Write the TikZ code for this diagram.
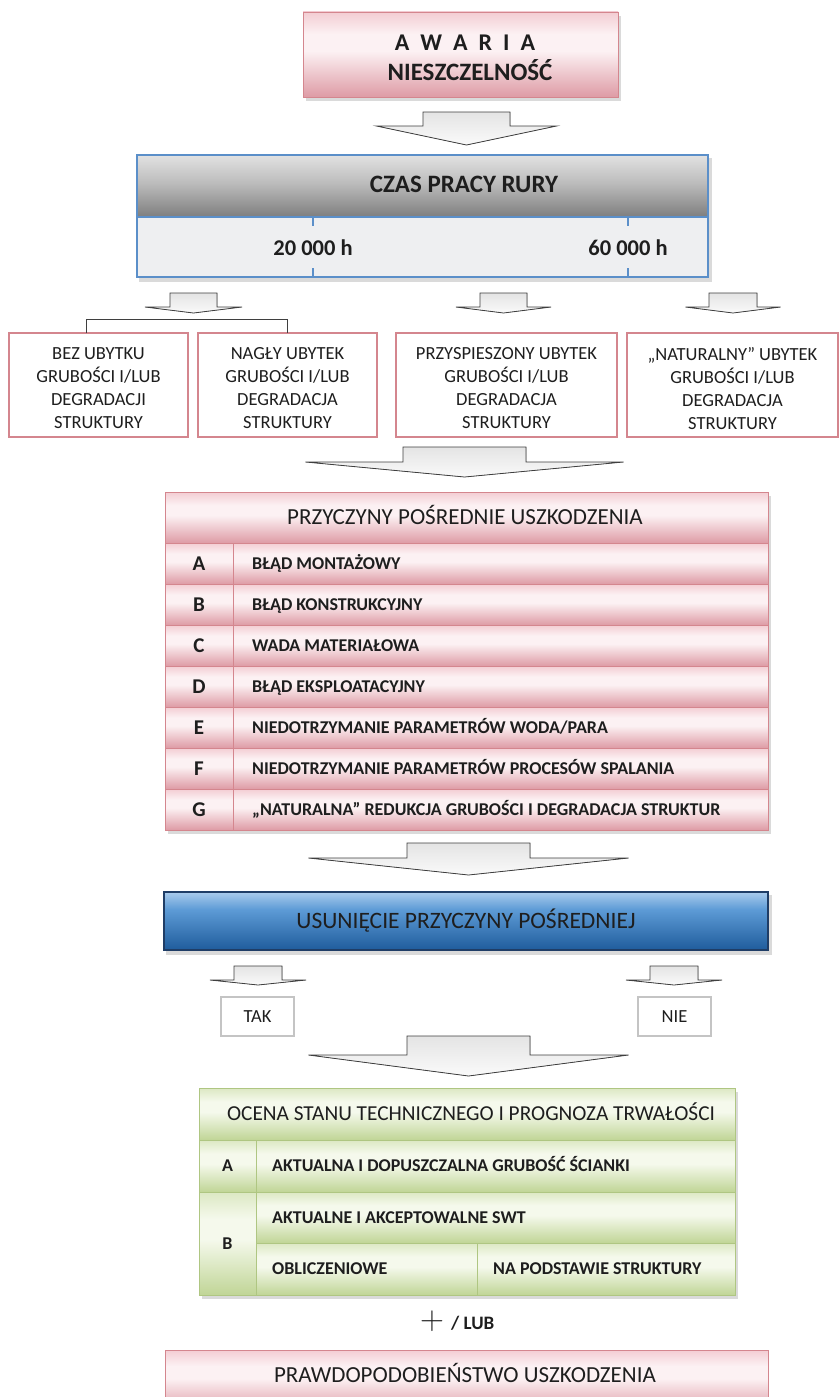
\documentclass[tikz,border=0pt]{standalone}
\usepackage{fontspec}
\setmainfont{Carlito}
\usetikzlibrary{backgrounds}

\newcommand\setfs[2]{\fontsize{#1}{#2}\selectfont}

% palette
\definecolor{ink}{HTML}{1E1E1E}
\definecolor{pinkline}{HTML}{D4868E}
\definecolor{pinkTop}{HTML}{F3CDD3}
\definecolor{pinkMid}{HTML}{FCF1F3}
\definecolor{pinkBot}{HTML}{DE9BA5}
\definecolor{greenline}{HTML}{AFC682}
\definecolor{greenTop}{HTML}{DCE8C3}
\definecolor{greenMid}{HTML}{F5F9EC}
\definecolor{greenBot}{HTML}{C0D596}
\definecolor{grayTop}{HTML}{E2E2E2}
\definecolor{grayMid}{HTML}{BBBBBB}
\definecolor{grayBot}{HTML}{7E7E7E}
\definecolor{axisfill}{HTML}{EEEFF1}
\definecolor{axisline}{HTML}{5B8FC9}
\definecolor{blueTop}{HTML}{A9CBEC}
\definecolor{blueMid}{HTML}{5D9BD6}
\definecolor{blueBot}{HTML}{1F5C9C}
\definecolor{blueline}{HTML}{1F3D66}
\definecolor{arrowline}{HTML}{3F3F3F}
\definecolor{arrowTop}{HTML}{E4E4E4}
\definecolor{arrowBot}{HTML}{FAFAFA}
\definecolor{boxgray}{HTML}{C4C4C4}
\definecolor{shadowgray}{HTML}{8C8C8C}

% vertical bands: the path spans 25bp (bottom) .. 75bp (top)
\pgfdeclareverticalshading{pinkband}{100bp}{color(0bp)=(pinkBot); color(25bp)=(pinkBot); color(52bp)=(pinkMid); color(62bp)=(pinkMid); color(75bp)=(pinkTop); color(100bp)=(pinkTop)}
\pgfdeclareverticalshading{greenband}{100bp}{color(0bp)=(greenBot); color(25bp)=(greenBot); color(52bp)=(greenMid); color(62bp)=(greenMid); color(75bp)=(greenTop); color(100bp)=(greenTop)}
\pgfdeclareverticalshading{grayband}{100bp}{color(0bp)=(grayBot); color(25bp)=(grayBot); color(52bp)=(grayMid); color(75bp)=(grayTop); color(100bp)=(grayTop)}
\pgfdeclareverticalshading{blueband}{100bp}{color(0bp)=(blueBot); color(25bp)=(blueBot); color(60bp)=(blueMid); color(75bp)=(blueTop); color(100bp)=(blueTop)}

% downward block arrow: centre x, top y, half stem, half head, stem bottom y, tip y
\newcommand\blockarrow[6]{%
  \filldraw[blockarr] (#1-#3,#2) -- (#1+#3,#2) -- (#1+#3,#5) -- (#1+#4,#5)
    -- (#1,#6) -- (#1-#4,#5) -- (#1-#3,#5) -- cycle;}

\begin{document}
\begin{tikzpicture}[x=1pt,y=-1pt,
  every node/.style={text=ink},
  pinkcell/.style={draw=pinkline, line width=0.9pt, shade, shading=pinkband, inner sep=0pt, outer sep=0pt},
  greencell/.style={draw=greenline, line width=0.9pt, shade, shading=greenband, inner sep=0pt, outer sep=0pt},
  hdrtext/.style={font=\setfs{23}{28}, text height=14.5pt, text depth=0pt, inner sep=0pt},
  rowtext/.style={font=\bfseries\setfs{18}{22}, text height=11.4pt, text depth=0pt, inner sep=0pt, anchor=west},
  lettext/.style={font=\bfseries\setfs{21}{25}, text height=13.3pt, text depth=0pt, inner sep=0pt},
  smalllet/.style={font=\bfseries\setfs{18}{22}, text height=11.4pt, text depth=0pt, inner sep=0pt},
  statebox/.style={draw=pinkline, line width=1.6pt, fill=white, inner sep=0pt, outer sep=0pt},
  statetext/.style={font=\setfs{18.5}{23}, align=center, inner sep=0pt},
  choicebox/.style={draw=boxgray, line width=1.2pt, fill=white, font=\setfs{18.5}{22}, text height=11.7pt, text depth=0pt, inner sep=0pt},
  blockarr/.style={draw=arrowline, line width=0.8pt, top color=arrowTop, bottom color=arrowBot, line join=miter},
  bracket/.style={draw=arrowline, line width=0.8pt},
  tick/.style={draw=axisline, line width=2pt},
  shadowbox/.style={fill=shadowgray, opacity=0.32},
]
\useasboundingbox (0,0) rectangle (839,1397);

% ---- failure ----
\node[pinkcell, minimum width=315pt, minimum height=85pt] (awaria) at (460.5,54.5) {};
\node[font=\bfseries\setfs{24}{28}, text height=15.2pt, text depth=0pt, inner sep=0pt] (awtitle) at (465,43)
  {A\hspace{11pt}W\hspace{11pt}A\hspace{11pt}R\hspace{11pt}I\hspace{11pt}A};
\node[font=\bfseries\setfs{25}{30}, text height=15.8pt, text depth=0pt, inner sep=0pt] (awsub) at (470,73) {NIESZCZELNOŚĆ};

\blockarrow{466.5}{112}{43.5}{90}{126}{145}

% ---- operating time ----
\node[draw=axisline, line width=1.5pt, shade, shading=grayband, minimum width=571pt, minimum height=62pt, inner sep=0pt] (czas) at (422.5,186) {};
\node[draw=axisline, line width=1.5pt, fill=axisfill, minimum width=571pt, minimum height=60pt, inner sep=0pt] (axis) at (422.5,247) {};
\node[font=\bfseries\setfs{25}{30}, text height=15.8pt, text depth=0pt, inner sep=0pt] (czastitle) at (464,185) {CZAS PRACY RURY};
\draw[tick] (313,218) -- (313,226);
\draw[tick] (313,268) -- (313,276);
\draw[tick] (628,218) -- (628,226);
\draw[tick] (628,268) -- (628,276);
\node[font=\bfseries\setfs{22.5}{27}, text height=14.2pt, text depth=0pt, inner sep=0pt] (h20) at (313,248) {20 000 h};
\node[font=\bfseries\setfs{22.5}{27}, text height=14.2pt, text depth=0pt, inner sep=0pt] (h60) at (628,248) {60 000 h};

\blockarrow{193.5}{293}{23.5}{48.5}{307}{313}
\blockarrow{503.5}{293}{23.5}{47.5}{307}{313}
\blockarrow{733}{293}{24}{47.5}{307}{313}

% ---- wall-loss states ----
\node[statebox, minimum width=179pt, minimum height=104pt] (s1) at (98.5,385) {};
\node[statebox, minimum width=179pt, minimum height=104pt] (s2) at (287.5,385) {};
\node[statebox, minimum width=221pt, minimum height=104pt] (s3) at (506.5,385) {};
\node[statebox, minimum width=211pt, minimum height=104pt] (s4) at (732.5,385) {};
\node[statetext] (t1) at (98.5,388.5) {BEZ UBYTKU\\GRUBOŚCI I/LUB\\DEGRADACJI\\STRUKTURY};
\node[statetext] (t2) at (287.5,388.5) {NAGŁY UBYTEK\\GRUBOŚCI I/LUB\\DEGRADACJA\\STRUKTURY};
\node[statetext] (t3) at (506.5,388.5) {PRZYSPIESZONY UBYTEK\\GRUBOŚCI I/LUB\\DEGRADACJA\\STRUKTURY};
\node[statetext] (t4) at (732.5,388.5) {„NATURALNY” UBYTEK\\GRUBOŚCI I/LUB\\DEGRADACJA\\STRUKTURY};
\draw[bracket] ([xshift=-12.5pt]s1.north) |- ([yshift=14pt]s2.north) -- (s2.north);

\blockarrow{464.5}{447}{61.5}{159}{462}{477}

% ---- indirect causes ----
\node[pinkcell, minimum width=603pt, minimum height=51pt] (phead) at (466.5,517.5) {};
\node[hdrtext] (pheadtext) at (465,517) {PRZYCZYNY POŚREDNIE USZKODZENIA};
\foreach \L/\T [count=\i from 0] in {
    A/{BŁĄD MONTAŻOWY},
    B/{BŁĄD KONSTRUKCYJNY},
    C/{WADA MATERIAŁOWA},
    D/{BŁĄD EKSPLOATACYJNY},
    E/{NIEDOTRZYMANIE PARAMETRÓW WODA/PARA},
    F/{NIEDOTRZYMANIE PARAMETRÓW PROCESÓW SPALANIA},
    G/{„NATURALNA” REDUKCJA GRUBOŚCI I DEGRADACJA STRUKTUR}} {
  \node[pinkcell, minimum width=68pt, minimum height=41pt] (pl\L) at (199,563.5+41*\i) {};
  \node[lettext] (plt\L) at (pl\L.center) {\L};
  \node[pinkcell, minimum width=535pt, minimum height=41pt] (pr\L) at (500.5,563.5+41*\i) {};
  \node[rowtext] (prt\L) at ([xshift=19pt]pr\L.west) {\T};
}
\begin{scope}[on background layer]
  \fill[shadowbox] ([shift={(3pt,-4pt)}]awaria.north west) rectangle ([shift={(3pt,-4pt)}]awaria.south east);
  \fill[shadowbox] ([shift={(3pt,-4pt)}]czas.north west) rectangle ([shift={(3pt,-4pt)}]axis.south east);
  \fill[shadowbox] ([shift={(3pt,-4pt)}]phead.north west) rectangle ([shift={(3pt,-4pt)}]prG.south east);
\end{scope}

\blockarrow{468.5}{843}{61.5}{160}{858}{875}

% ---- removal of the cause ----
\node[draw=blueline, line width=1.2pt, shade, shading=blueband, minimum width=604pt, minimum height=58pt, inner sep=0pt,
  font=\setfs{23.5}{28}, text height=14.9pt, text depth=0pt] (usun) at (466,921) {USUNIĘCIE PRZYCZYNY POŚREDNIEJ};

\blockarrow{258}{966}{24}{48}{980}{985}
\blockarrow{674}{966}{24}{48}{980}{985}
\node[choicebox, minimum width=73pt, minimum height=39pt] (tak) at (257.5,1016.5) {TAK};
\node[choicebox, minimum width=73pt, minimum height=39pt] (nie) at (674.5,1016.5) {NIE};

\blockarrow{468.5}{1036}{61.5}{160}{1055}{1076}

% ---- technical assessment ----
\node[greencell, minimum width=536pt, minimum height=52pt] (ohead) at (467,1114) {};
\node[font=\setfs{21.3}{26}, text height=13.5pt, text depth=0pt, inner sep=0pt] (oheadtext) at (471,1114) {OCENA STANU TECHNICZNEGO I PROGNOZA TRWAŁOŚCI};
\node[greencell, minimum width=57pt, minimum height=52pt] (olA) at (227.5,1166) {};
\node[smalllet] (oltA) at (olA.center) {A};
\node[greencell, minimum width=479pt, minimum height=52pt] (orA) at (495.5,1166) {};
\node[rowtext] (ortA) at ([xshift=16pt]orA.west) {AKTUALNA I DOPUSZCZALNA GRUBOŚĆ ŚCIANKI};
\node[greencell, minimum width=57pt, minimum height=103pt] (olB) at (227.5,1243.5) {};
\node[smalllet] (oltB) at (olB.center) {B};
\node[greencell, minimum width=479pt, minimum height=51pt] (orB) at (495.5,1217.5) {};
\node[rowtext] (ortB) at ([xshift=16pt]orB.west) {AKTUALNE I AKCEPTOWALNE SWT};
\node[greencell, minimum width=221pt, minimum height=52pt] (oc1) at (366.5,1269) {};
\node[rowtext] (oct1) at ([xshift=16pt]oc1.west) {OBLICZENIOWE};
\node[greencell, minimum width=258pt, minimum height=52pt] (oc2) at (606,1269) {};
\node[rowtext] (oct2) at ([xshift=16pt]oc2.west) {NA PODSTAWIE STRUKTURY};
\begin{scope}[on background layer]
  \fill[shadowbox] ([shift={(3pt,-4pt)}]usun.north west) rectangle ([shift={(3pt,-4pt)}]usun.south east);
  \fill[shadowbox] ([shift={(3pt,-4pt)}]ohead.north west) rectangle ([shift={(3pt,-4pt)}]oc2.south east);
\end{scope}

% ---- and/or ----
\node[font=\setfs{20.74}{24}, scale=1.6, inner sep=0pt] (plus) at (432,1321) {$+$};
\node[font=\bfseries\setfs{19}{23}, text height=12pt, text depth=0pt, inner sep=0pt, anchor=west] (lub) at (451,1323) {/ LUB};

% ---- failure probability ----
\node[pinkcell, minimum width=603pt, minimum height=62pt] (prob) at (466.5,1381) {};
\node[hdrtext] (probtext) at (465,1375) {PRAWDOPODOBIEŃSTWO USZKODZENIA};
\end{tikzpicture}
\end{document}
